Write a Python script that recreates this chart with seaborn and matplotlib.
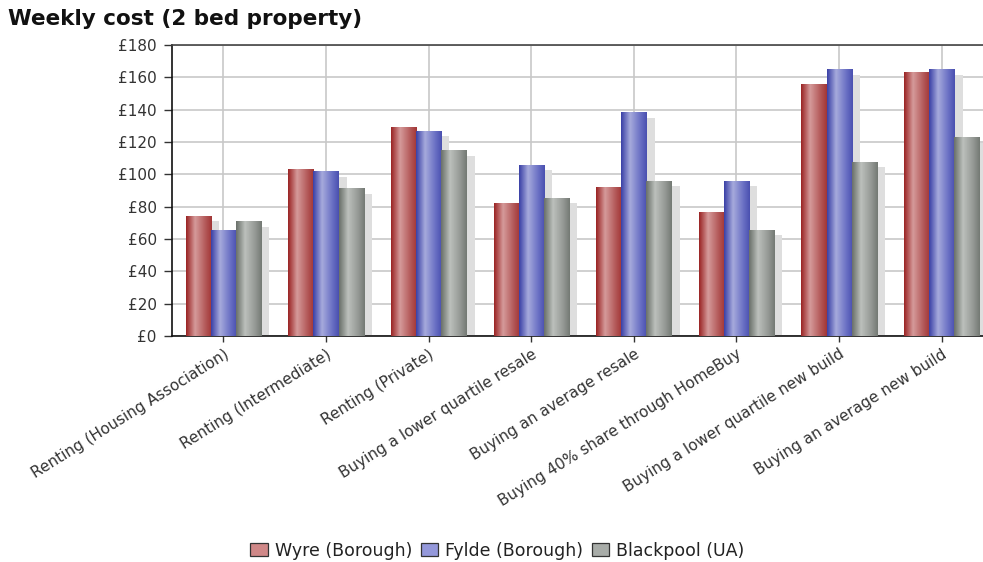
import numpy as np
import pandas as pd
import matplotlib
matplotlib.use("Agg")
import matplotlib.pyplot as plt
from matplotlib.patches import Patch
from matplotlib.colors import LinearSegmentedColormap
import seaborn as sns

categories = [
    "Renting (Housing Association)",
    "Renting (Intermediate)",
    "Renting (Private)",
    "Buying a lower quartile resale",
    "Buying an average resale",
    "Buying 40% share through HomeBuy",
    "Buying a lower quartile new build",
    "Buying an average new build",
]
series_names = ["Wyre (Borough)", "Fylde (Borough)", "Blackpool (UA)"]
wyre = [74, 103, 129, 82, 92, 76.5, 155.5, 163]
fylde = [65, 101.5, 126.5, 105.5, 138, 95.5, 164.5, 164.5]
blackpool = [70.5, 91, 114.5, 85, 95.5, 65.5, 107.5, 122.5]
y_ticks = [0, 20, 40, 60, 80, 100, 120, 140, 160, 180]
y_tick_labels = ["£0", "£20", "£40", "£60", "£80", "£100", "£120", "£140", "£160", "£180"]

df = pd.DataFrame({
    "category": categories * 3,
    "series": sum([[s] * len(categories) for s in series_names], []),
    "value": wyre + fylde + blackpool,
})

base_colors = ["#b04848", "#5a60bc", "#8a908a"]
legend_colors = ["#d08888", "#9498da", "#a8aca8"]
grad_stops = [
    ["#9a2424", "#d59a9a", "#b45a5a", "#a23636"],
    ["#3a40a6", "#a6aadc", "#6a70c4", "#4a50b0"],
    ["#6a706a", "#bcc0bc", "#949894", "#747a74"],
]

sns.set_theme(style="white")
plt.rcParams["font.family"] = ["DejaVu Sans"]

fig = plt.figure(figsize=(9.83, 5.62), dpi=100)
ax = fig.add_axes([0.175, 0.402, 0.83, 0.518])

sns.barplot(data=df, x="category", y="value", hue="series", order=categories,
            hue_order=series_names, palette=base_colors, width=0.735,
            saturation=1, linewidth=0, ax=ax, legend=False, zorder=3)

# gradient fill + shadows
bar_containers = list(ax.containers)
grad = np.linspace(0, 1, 64).reshape(1, -1)
for si, cont in enumerate(bar_containers):
    cmap = LinearSegmentedColormap.from_list(f"g{si}", list(zip([0, 0.35, 0.75, 1.0], grad_stops[si])))
    for p in list(cont.patches):
        x0, w, h = p.get_x(), p.get_width(), p.get_height()
        ax.bar(x0 + w / 2 + 0.08, max(h - 3, 0), width=w, color="#dedede",
               linewidth=0, zorder=2)
        ax.imshow(grad, cmap=cmap, extent=[x0, x0 + w, 0, h], aspect="auto",
                  zorder=3.5, interpolation="bilinear")

ax.set_xlim(-0.5, 7.45)
ax.set_ylim(0, 180)
ax.set_yticks(y_ticks)
ax.set_yticklabels(y_tick_labels)
ax.set_xticks(range(len(categories)))
ax.set_xticklabels(categories, rotation=32, ha="right", rotation_mode="anchor")
ax.tick_params(axis="both", labelsize=11, colors="#333333", width=1,
               direction="out", bottom=True, left=True)
ax.tick_params(axis="y", length=6, pad=5)
ax.tick_params(axis="x", length=4.5, pad=3)
ax.set_xlabel("")
ax.set_ylabel("")
ax.grid(True, color="#c8c8c8", linewidth=1.2, zorder=0)
ax.set_axisbelow(True)
for s in ["left", "bottom"]:
    ax.spines[s].set_color("#111111")
    ax.spines[s].set_linewidth(1.2)
ax.spines["top"].set_color("#444444")
ax.spines["top"].set_linewidth(1.2)
ax.spines["right"].set_visible(False)

fig.text(0.008, 0.955, "Weekly cost (2 bed property)", fontsize=15.5,
         fontweight="bold", color="#111111")

handles = [Patch(facecolor=c, edgecolor="#333333", linewidth=0.9) for c in legend_colors]
fig.legend(handles, series_names, loc="center", bbox_to_anchor=(0.506, 0.02),
           ncol=3, frameon=False, fontsize=12.5, handlelength=1.0, handleheight=0.75,
           handletextpad=0.4, columnspacing=0.5, labelcolor="#222222")

fig.savefig("out.png", dpi=100)
